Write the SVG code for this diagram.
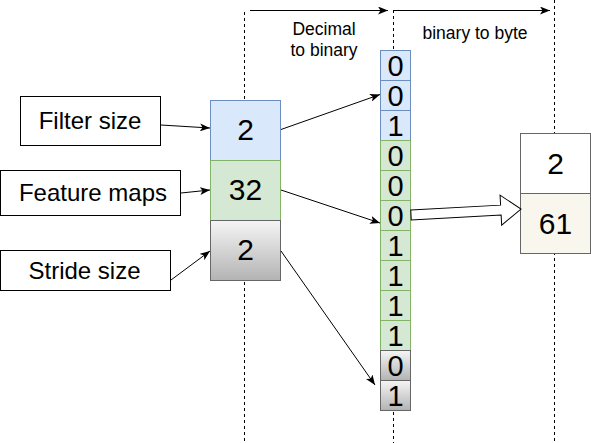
<svg xmlns="http://www.w3.org/2000/svg" width="591" height="443" viewBox="0 0 591 443">
<style>
text{font-family:"Liberation Sans",Arial,sans-serif;fill:#000;text-anchor:middle}
.lbl{font-size:24px}
.num{font-size:30px}
.bit{font-size:29px}
.cap{font-size:17.5px}
.dash{stroke:#000;stroke-width:1;stroke-dasharray:3 3;fill:none}
.ln{stroke:#000;stroke-width:1;fill:none;marker-end:url(#ah)}
.plain{fill:#fff;stroke:#000;stroke-width:1}
.blue{fill:#dae8fc;stroke:#6c8ebf;stroke-width:1}
.green{fill:#d5e8d4;stroke:#82b366;stroke-width:1}
.gray{fill:url(#gg);stroke:#666;stroke-width:1}
.wbox{fill:#fff;stroke:#666;stroke-width:1}
.cream{fill:#f9f7ed;stroke:#666;stroke-width:1}
</style>
<defs>
<linearGradient id="gg" x1="0" y1="0" x2="0" y2="1">
<stop offset="0" stop-color="#f5f5f5"/>
<stop offset="1" stop-color="#b3b3b3"/>
</linearGradient>
<marker id="ah" viewBox="0 0 10 8" refX="10" refY="4" markerWidth="10" markerHeight="8" markerUnits="userSpaceOnUse" orient="auto">
<path d="M0,0 L10,4 L0,8 L2.5,4 z" fill="#000"/>
</marker>
</defs>
<rect width="591" height="443" fill="#fff"/>

<g id="guides">
<line class="dash" x1="244.5" y1="12" x2="244.5" y2="443"/>
<line class="dash" x1="393.5" y1="10" x2="393.5" y2="443"/>
<line class="dash" x1="554.5" y1="0" x2="554.5" y2="443"/>
</g>

<g id="caption-decimal">
<text class="cap" x="324" y="35">Decimal</text>
<text class="cap" x="324" y="56">to binary</text>
</g>
<g id="caption-byte">
<text class="cap" x="475" y="39">binary to byte</text>
</g>

<g id="filter-size-label">
<rect class="plain" x="20.5" y="96.5" width="140" height="49"/>
<text class="lbl" x="90" y="129">Filter size</text>
</g>
<g id="feature-maps-label">
<rect class="plain" x="0.5" y="170.5" width="180" height="45"/>
<text class="lbl" x="93" y="201">Feature maps</text>
</g>
<g id="stride-size-label">
<rect class="plain" x="0.5" y="250.5" width="170" height="40"/>
<text class="lbl" x="84.5" y="278.5">Stride size</text>
</g>

<g id="value-filter">
<rect class="blue" x="210.5" y="100.5" width="70" height="60"/>
<text class="num" x="245.5" y="139.5">2</text>
</g>
<g id="value-feature">
<rect class="green" x="210.5" y="160.5" width="70" height="60"/>
<text class="num" x="245.5" y="199.5">32</text>
</g>
<g id="value-stride">
<rect class="gray" x="210.5" y="220.5" width="70" height="60"/>
<text class="num" x="245.5" y="259.5">2</text>
</g>

<g id="binary-stack">
<g id="bit1"><rect class="blue" x="380.5" y="50.5" width="30" height="30"/><text class="bit" x="395.5" y="75.5">0</text></g>
<g id="bit2"><rect class="blue" x="380.5" y="80.5" width="30" height="30"/><text class="bit" x="395.5" y="105.5">0</text></g>
<g id="bit3"><rect class="blue" x="380.5" y="110.5" width="30" height="30"/><text class="bit" x="395.5" y="135.5">1</text></g>
<g id="bit4"><rect class="green" x="380.5" y="140.5" width="30" height="30"/><text class="bit" x="395.5" y="165.5">0</text></g>
<g id="bit5"><rect class="green" x="380.5" y="170.5" width="30" height="30"/><text class="bit" x="395.5" y="195.5">0</text></g>
<g id="bit6"><rect class="green" x="380.5" y="200.5" width="30" height="30"/><text class="bit" x="395.5" y="225.5">0</text></g>
<g id="bit7"><rect class="green" x="380.5" y="230.5" width="30" height="30"/><text class="bit" x="395.5" y="255.5">1</text></g>
<g id="bit8"><rect class="green" x="380.5" y="260.5" width="30" height="30"/><text class="bit" x="395.5" y="285.5">1</text></g>
<g id="bit9"><rect class="green" x="380.5" y="290.5" width="30" height="30"/><text class="bit" x="395.5" y="315.5">1</text></g>
<g id="bit10"><rect class="green" x="380.5" y="320.5" width="30" height="30"/><text class="bit" x="395.5" y="345.5">1</text></g>
<g id="bit11"><rect class="gray" x="380.5" y="350.5" width="30" height="30"/><text class="bit" x="395.5" y="375.5">0</text></g>
<g id="bit12"><rect class="gray" x="380.5" y="380.5" width="30" height="30"/><text class="bit" x="395.5" y="405.5">1</text></g>
</g>

<g id="byte-top">
<rect class="wbox" x="520.5" y="133.5" width="70" height="60"/>
<text class="num" x="555.5" y="173.5">2</text>
</g>
<g id="byte-bottom">
<rect class="cream" x="520.5" y="193.5" width="70" height="60"/>
<text class="num" x="555.5" y="233.5">61</text>
</g>

<g id="connectors">
<line class="ln" x1="250" y1="10.5" x2="388" y2="10.5"/>
<line class="ln" x1="394" y1="10.5" x2="550" y2="10.5"/>
<line class="ln" x1="161" y1="125" x2="210" y2="128"/>
<line class="ln" x1="181" y1="193" x2="210" y2="190"/>
<line class="ln" x1="171" y1="280" x2="210" y2="251"/>
<line class="ln" x1="281" y1="129.5" x2="380" y2="94.5"/>
<line class="ln" x1="281" y1="190" x2="380" y2="223"/>
<line class="ln" x1="281" y1="251" x2="375" y2="385"/>
<g transform="translate(411,215) rotate(-3.1)">
<path d="M0,-5 L90,-5 L90,-15 L110.2,0 L90,15 L90,5 L0,5 Z" fill="#fff" stroke="#000" stroke-width="1"/>
</g>
</g>
</svg>
